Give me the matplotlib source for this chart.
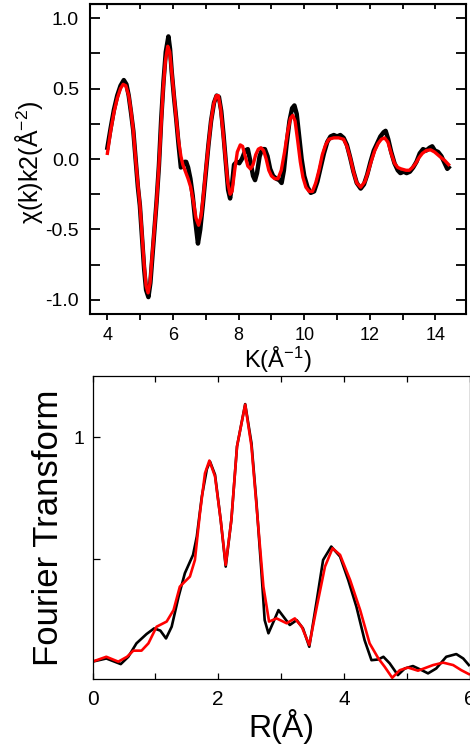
import matplotlib

matplotlib.use("Agg")
import matplotlib.pyplot as plt
from matplotlib.ticker import MultipleLocator

plt.rcParams["font.family"] = ["Liberation Sans", "DejaVu Sans"]
plt.rcParams["mathtext.default"] = "regular"
plt.rcParams["axes.unicode_minus"] = False

# --- k-space chi(k)*k^2 : experiment (black) and fit (red) ---
k_fit = [4.00, 4.10, 4.20, 4.30, 4.40, 4.48, 4.56, 4.65, 4.72, 4.79, 4.86, 4.93,
         4.99, 5.06, 5.12, 5.18, 5.24, 5.30, 5.36, 5.43, 5.50, 5.57, 5.64, 5.70,
         5.77, 5.84, 5.90, 5.96, 6.03, 6.10, 6.17, 6.24, 6.30, 6.38, 6.46, 6.54,
         6.62, 6.70, 6.78, 6.86, 6.93, 7.00, 7.08, 7.16, 7.24, 7.32, 7.38, 7.45,
         7.52, 7.60, 7.67, 7.74, 7.80, 7.88, 7.96, 8.05, 8.12, 8.20, 8.28, 8.36,
         8.44, 8.52, 8.60, 8.68, 8.76, 8.84, 8.92, 9.00, 9.10, 9.20, 9.30, 9.40,
         9.50, 9.58, 9.65, 9.72, 9.80, 9.88, 9.96, 10.05, 10.15, 10.25, 10.35,
         10.45, 10.55, 10.65, 10.75, 10.90, 11.05, 11.20, 11.30, 11.40, 11.50,
         11.60, 11.72, 11.85, 11.95, 12.05, 12.15, 12.25, 12.35, 12.45, 12.55,
         12.65, 12.75, 12.85, 12.95, 13.10, 13.20, 13.30, 13.40, 13.50, 13.60,
         13.72, 13.85, 13.97, 14.07, 14.17, 14.28, 14.40]
chi_fit = [0.04, 0.20, 0.33, 0.43, 0.50, 0.53, 0.52, 0.45, 0.34, 0.20, 0.00, -0.18,
           -0.32, -0.55, -0.75, -0.90, -0.95, -0.88, -0.70, -0.50, -0.30, -0.05, 0.25, 0.50,
           0.70, 0.80, 0.76, 0.62, 0.45, 0.28, 0.13, 0.02, -0.04, -0.09, -0.14, -0.20,
           -0.30, -0.42, -0.47, -0.40, -0.25, -0.08, 0.10, 0.27, 0.39, 0.45, 0.45, 0.36,
           0.20, 0.00, -0.17, -0.25, -0.23, -0.08, 0.05, 0.10, 0.09, 0.02, -0.05, -0.07,
           -0.04, 0.03, 0.07, 0.08, 0.06, 0.00, -0.08, -0.12, -0.14, -0.14, -0.08, 0.05,
           0.20, 0.29, 0.31, 0.27, 0.13, -0.02, -0.13, -0.20, -0.23, -0.23, -0.17,
           -0.08, 0.03, 0.10, 0.14, 0.15, 0.15, 0.14, 0.09, 0.01, -0.09,
           -0.17, -0.20, -0.16, -0.09, -0.01, 0.06, 0.11, 0.14, 0.15, 0.12,
           0.04, -0.03, -0.06, -0.07, -0.08, -0.08, -0.06, -0.03, 0.01, 0.04,
           0.06, 0.065, 0.05, 0.03, 0.01, -0.01, -0.04]

k_exp = [4.00, 4.10, 4.20, 4.30, 4.40, 4.50, 4.58, 4.65, 4.72, 4.79, 4.86, 4.93,
         4.99, 5.06, 5.12, 5.18, 5.25, 5.31, 5.37, 5.44, 5.50, 5.57, 5.64, 5.71,
         5.78, 5.86, 5.91, 5.96, 6.03, 6.10, 6.17, 6.24, 6.30, 6.36, 6.40, 6.46,
         6.53, 6.60, 6.67, 6.76, 6.83, 6.91, 7.00, 7.08, 7.16, 7.25, 7.33, 7.40,
         7.47, 7.54, 7.62, 7.68, 7.74, 7.80, 7.86, 7.94, 8.02, 8.10, 8.20, 8.28,
         8.36, 8.44, 8.50, 8.56, 8.64, 8.72, 8.80, 8.88, 8.96, 9.05, 9.15, 9.24,
         9.31, 9.38, 9.46, 9.55, 9.63, 9.70, 9.77, 9.84, 9.92, 10.00, 10.10, 10.20,
         10.30, 10.40, 10.50, 10.60, 10.70, 10.80, 10.90, 11.00, 11.10, 11.20,
         11.30, 11.40, 11.50, 11.60, 11.72, 11.82, 11.92, 12.02, 12.12, 12.22,
         12.32, 12.42, 12.48, 12.56, 12.65, 12.75, 12.85, 12.93, 13.03, 13.12,
         13.22, 13.32, 13.42, 13.52, 13.62, 13.72, 13.82, 13.90, 13.98, 14.08,
         14.18, 14.28, 14.36, 14.40]
chi_exp = [0.08, 0.22, 0.35, 0.45, 0.52, 0.56, 0.53, 0.45, 0.33, 0.20, 0.00, -0.20,
           -0.33, -0.57, -0.78, -0.93, -0.98, -0.88, -0.70, -0.48, -0.30, -0.05, 0.28, 0.55,
           0.76, 0.87, 0.78, 0.62, 0.44, 0.28, 0.10, -0.06, -0.05, -0.02, -0.02, -0.06,
           -0.14, -0.26, -0.42, -0.60, -0.50, -0.32, -0.10, 0.10, 0.27, 0.40, 0.45, 0.44,
           0.34, 0.17, -0.05, -0.22, -0.28, -0.18, -0.04, -0.02, -0.03, 0.00, 0.06, 0.07,
           -0.02, -0.12, -0.15, -0.10, 0.02, 0.07, 0.07, 0.02, -0.07, -0.12, -0.14, -0.15,
           -0.17, -0.08, 0.10, 0.27, 0.36, 0.38, 0.32, 0.17, 0.00, -0.12, -0.20, -0.24,
           -0.23, -0.16, -0.06, 0.04, 0.12, 0.16, 0.17, 0.16, 0.17, 0.15,
           0.10, 0.01, -0.09, -0.17, -0.21, -0.18, -0.11, -0.02, 0.06, 0.11,
           0.16, 0.19, 0.20, 0.14, 0.05, -0.03, -0.08, -0.10, -0.09, -0.10,
           -0.09, -0.06, -0.02, 0.04, 0.07, 0.06, 0.08, 0.09, 0.06, 0.05,
           0.02, -0.03, -0.07, -0.06]

# --- R-space Fourier transform magnitude ---
r_fit = [0.00, 0.22, 0.41, 0.55, 0.65, 0.78, 0.89, 1.02, 1.18, 1.29, 1.39, 1.55,
         1.63, 1.71, 1.79, 1.86, 1.95, 2.04, 2.12, 2.21, 2.30, 2.43, 2.53, 2.62,
         2.72, 2.81, 2.93, 3.09, 3.22, 3.33, 3.45, 3.57, 3.70, 3.82, 3.94, 4.10,
         4.26, 4.41, 4.55, 4.65, 4.77, 4.89, 5.02, 5.18, 5.42, 5.58, 5.74, 5.87,
         5.99]
ft_fit = [0.081, 0.101, 0.081, 0.101, 0.126, 0.126, 0.156, 0.224, 0.245, 0.292, 0.388, 0.429,
          0.497, 0.689, 0.852, 0.904, 0.839, 0.661, 0.477, 0.661, 0.962, 1.133, 0.962, 0.689,
          0.388, 0.245, 0.258, 0.238, 0.258, 0.224, 0.149, 0.306, 0.470, 0.545, 0.518, 0.415,
          0.292, 0.156, 0.094, 0.060, 0.015, 0.046, 0.057, 0.044, 0.067, 0.077, 0.067, 0.046,
          0.030]

r_exp = [0.00, 0.22, 0.45, 0.57, 0.70, 0.86, 0.98, 1.08, 1.17, 1.26, 1.37, 1.47,
         1.60, 1.66, 1.74, 1.82, 1.87, 1.95, 2.04, 2.12, 2.21, 2.30, 2.43, 2.53,
         2.61, 2.69, 2.74, 2.80, 2.87, 2.96, 3.06, 3.14, 3.25, 3.35, 3.45, 3.57,
         3.67, 3.80, 3.94, 4.07, 4.20, 4.33, 4.44, 4.55, 4.63, 4.73, 4.86, 4.97,
         5.10, 5.24, 5.34, 5.47, 5.63, 5.79, 5.90, 5.99]
ft_exp = [0.081, 0.094, 0.071, 0.101, 0.156, 0.194, 0.217, 0.208, 0.176, 0.224, 0.347, 0.443,
          0.518, 0.593, 0.757, 0.869, 0.900, 0.846, 0.661, 0.470, 0.661, 0.962, 1.135, 0.975,
          0.730, 0.443, 0.251, 0.197, 0.238, 0.292, 0.258, 0.231, 0.251, 0.217, 0.142, 0.333,
          0.497, 0.552, 0.511, 0.415, 0.306, 0.169, 0.087, 0.090, 0.101, 0.074, 0.026, 0.053,
          0.063, 0.046, 0.033, 0.053, 0.101, 0.112, 0.094, 0.067]

W, H = 470, 751
fig = plt.figure(figsize=(W / 100, H / 100), dpi=100)


def box(l, t, r, b):
    return [l / W, 1 - b / H, (r - l) / W, (b - t) / H]


# top panel: chi(k)
ax1 = fig.add_axes(box(90, 4, 466, 314))
ax1.plot(k_exp, chi_exp, color="black", lw=3.2, solid_joinstyle="round")
ax1.plot(k_fit, chi_fit, color="red", lw=2.4, solid_joinstyle="round")
ax1.set_xlim(3.47, 14.93)
ax1.set_ylim(-1.1, 1.1)
ax1.xaxis.set_major_locator(MultipleLocator(2))
ax1.xaxis.set_minor_locator(MultipleLocator(1))
ax1.yaxis.set_major_locator(MultipleLocator(0.5))
ax1.yaxis.set_minor_locator(MultipleLocator(0.25))
ax1.yaxis.set_major_formatter(lambda v, p: f"{v:.1f}")
for s in ax1.spines.values():
    s.set_linewidth(1.5)
ax1.tick_params(axis="x", which="both", direction="out", length=4, width=1.3,
                labelsize=13, pad=5)
ax1.tick_params(axis="y", which="both", direction="in", length=7, width=1.3,
                right=True, labelsize=14, pad=8)
top = ax1.secondary_xaxis("top")
top.xaxis.set_major_locator(MultipleLocator(1))
top.tick_params(direction="in", length=3.5, width=1.3, labeltop=False)
ax1.set_xlabel("K(Å$^{-1}$)", fontsize=17)
ax1.xaxis.set_label_coords(0.5, -0.1)
ax1.set_ylabel("χ(k)k2(Å$^{-2}$)", fontsize=18)
ax1.yaxis.set_label_coords(-0.12, 0.49)

# bottom panel: Fourier transform
ax2 = fig.add_axes(box(92.5, 376, 469.5, 679))
ax2.plot(r_exp, ft_exp, color="black", lw=1.9, solid_joinstyle="round")
ax2.plot(r_fit, ft_fit, color="red", lw=1.9, solid_joinstyle="round")
ax2.set_xlim(0, 6)
ax2.set_ylim(0.01, 1.25)
ax2.xaxis.set_major_locator(MultipleLocator(2))
ax2.xaxis.set_minor_locator(MultipleLocator(1))
ax2.yaxis.set_major_locator(MultipleLocator(1))
ax2.yaxis.set_minor_locator(MultipleLocator(0.5))
for s in ax2.spines.values():
    s.set_linewidth(0.9)
ax2.tick_params(axis="x", which="both", direction="in", top=True, length=4,
                width=0.9, labelsize=15, pad=8)
ax2.tick_params(axis="y", which="both", direction="in", length=5, width=0.9,
                labelsize=14, pad=5.5)
ax2.set_xlabel("R(Å)", fontsize=23)
ax2.xaxis.set_label_coords(0.5, -0.1)
ax2.set_ylabel("Fourier Transform", fontsize=25)
ax2.yaxis.set_label_coords(-0.073, 0.5)

fig.savefig("out.png", dpi=100)
